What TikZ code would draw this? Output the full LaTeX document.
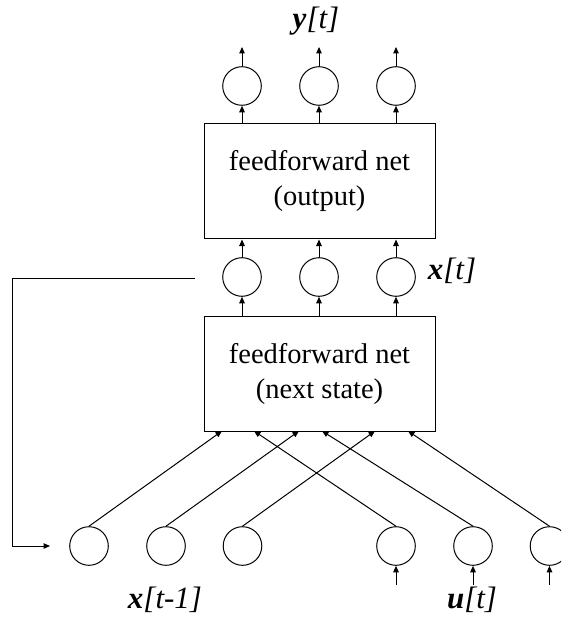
\documentclass[tikz,border=0pt]{standalone}
\usepackage{fontspec}
\setmainfont{Liberation Serif}
\usetikzlibrary{arrows.meta}
\begin{document}
\begin{tikzpicture}[x=1pt,y=-1pt,
  neuron/.style={draw,circle,minimum size=38.6pt,inner sep=0pt,line width=1pt},
  netbox/.style={draw,rectangle,line width=1pt,minimum width=231pt,minimum height=115pt,inner sep=0pt,align=center,font=\fontsize{28.5}{35}\selectfont},
  conn/.style={line width=1pt,-{Triangle[length=6.5pt,width=5.5pt]}},
  lbl/.style={font=\fontsize{31}{33}\selectfont}]
\clip (0,0) rectangle (561,617);
\useasboundingbox (0,0) rectangle (561,617);
% top output neurons
\node[neuron] (t1) at (242,86) {};
\node[neuron] (t2) at (319,86) {};
\node[neuron] (t3) at (396,86) {};
\coordinate (o1) at (242,47);
\coordinate (o2) at (319,47);
\coordinate (o3) at (396,47);
\node[lbl] (ylab) at (316,21) {\textbf{\textit{y}}\textit{[t]}};
% output box
\node[netbox] (b1) at (319.5,181.5) {feedforward net\\(output)};
% state neurons
\node[neuron] (m1) at (242,277) {};
\node[neuron] (m2) at (319,277) {};
\node[neuron] (m3) at (396,277) {};
\node[lbl] (xlab) at (452,271) {\textbf{\textit{x}}\textit{[t]}};
% next state box
\node[netbox] (b2) at (319.5,373.5) {feedforward net\\(next state)};
% bottom neurons
\node[neuron] (x1) at (89,546) {};
\node[neuron] (x2) at (166,546) {};
\node[neuron] (x3) at (242.5,546) {};
\node[neuron] (u1) at (396,546) {};
\node[neuron] (u2) at (473,546) {};
\node[neuron] (u3) at (549.5,546) {};
\node[lbl] (xplab) at (165,600) {\textbf{\textit{x}}\textit{[t-1]}};
\node[lbl] (ulab) at (472,600) {\textbf{\textit{u}}\textit{[t]}};
% targets on box bottom
\coordinate (a1) at (222,431);
\coordinate (a2) at (299,431);
\coordinate (a3) at (375,431);
\coordinate (c1) at (254,431);
\coordinate (c2) at (322,431);
\coordinate (c3) at (408,431);
% input stubs
\coordinate (i1) at (396,585);
\coordinate (i2) at (473,585);
\coordinate (i3) at (549.5,585);
% feedback
\coordinate (fb0) at (195,278);
\coordinate (fb1) at (12,278);
\coordinate (fb2) at (12,546);
\coordinate (fb3) at (50,546);
% connectors
\foreach \n in {1,2,3} {
  \draw[conn] (t\n.north) -- (o\n);
  \draw[conn] (m\n.north) -- (m\n.north |- b1.south);
  \draw[conn] (t\n.south |- b1.north) -- (t\n.south);
  \draw[conn] (m\n.south |- b2.north) -- (m\n.south);
  \draw[conn] (x\n.north) -- (a\n);
  \draw[conn] (u\n.north) -- (c\n);
  \draw[conn] (i\n) -- (u\n.south);
}
\draw[conn] (fb0) -- (fb1) -- (fb2) -- (fb3);
\end{tikzpicture}
\end{document}
